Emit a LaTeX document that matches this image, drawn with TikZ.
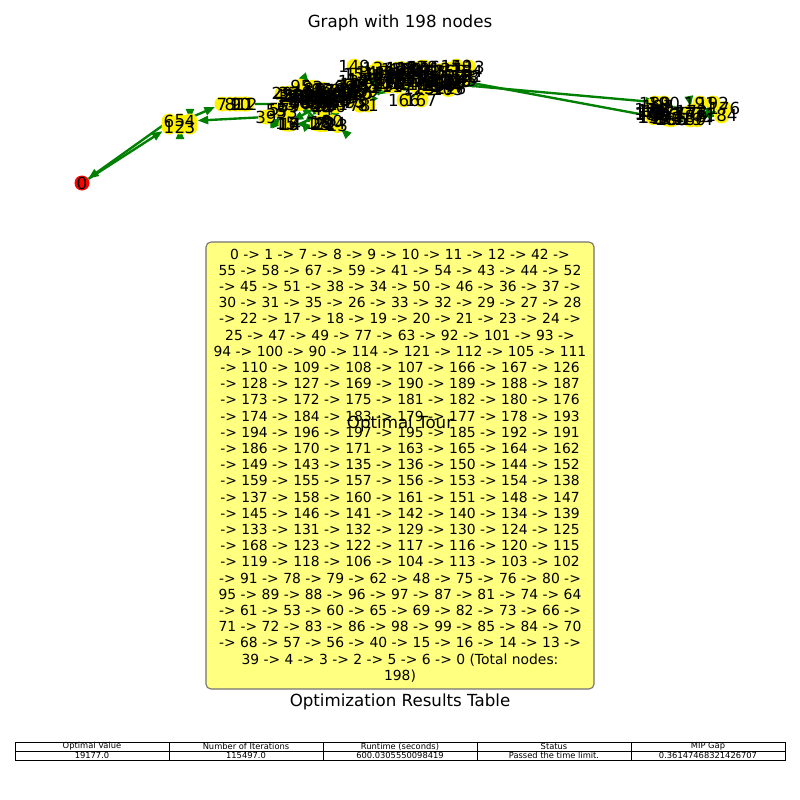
\documentclass[tikz,border=0pt]{standalone}
\usepackage{fontspec}
\setmainfont{DejaVu Sans}
\usetikzlibrary{arrows.meta}
\definecolor{nxgreen}{HTML}{008000}
\definecolor{boxyellow}{HTML}{FFFF80}
\pgfdeclarelayer{edges}
\pgfsetlayers{edges,main}

\begin{document}
\begin{tikzpicture}[x=0.72pt, y=-0.72pt,
    vtx/.style={circle, fill=yellow, inner sep=0pt, minimum size=10.8pt},
    lbl/.style={font=\fontsize{12}{14}\selectfont, inner sep=0pt},
    edge/.style={-{Triangle[length=7.5pt, width=5.8pt]}, draw=nxgreen, line width=1.7pt},
    cell/.style={draw, line width=0.7pt, minimum width=110.88pt, minimum height=6.48pt, inner sep=0pt, font=\fontsize{6}{6.5}\selectfont}]

    \useasboundingbox (0,0) rectangle (800,800);

    % Title
    \node[lbl] (title) at (400,23) {Graph with 198 nodes};

    % Depot
    \node[vtx, fill=red] (n0) at (82,183) {};

    % Cluster near the depot
    \node[vtx] (n1) at (169,127) {};
    \node[vtx] (n2) at (180,127) {};
    \node[vtx] (n3) at (190,127) {};
    \node[vtx] (n4) at (190,121) {};
    \node[vtx] (n5) at (180,121) {};
    \node[vtx] (n6) at (169,121) {};

    % Second cluster
    \foreach \i/\px in {7/222, 8/230, 9/236, 10/240, 11/244, 12/247}
        \node[vtx] (n\i) at (\px,104) {};

    % Middle clusters
    \pgfmathsetseed{11}
    \foreach \i in {13,14,15,16} {
        \pgfmathsetmacro\px{283+8*rnd}
        \node[vtx] (n\i) at (\px,124) {};
    }
    \foreach \i in {17,18,...,25} {
        \pgfmathsetmacro\px{316+26*rnd}
        \pgfmathsetmacro\py{121+5*rnd}
        \node[vtx] (n\i) at (\px,\py) {};
    }
    \node[vtx] (n39) at (266,117) {};
    \foreach \i in {26,27,...,38,40,41,...,60} {
        \pgfmathsetmacro\px{276+76*rnd}
        \pgfmathsetmacro\py{92+22*rnd}
        \node[vtx] (n\i) at (\px,\py) {};
    }
    \foreach \i in {61,62,...,100} {
        \pgfmathsetmacro\px{300+70*rnd}
        \pgfmathsetmacro\py{86+20*rnd}
        \node[vtx] (n\i) at (\px,\py) {};
    }

    % Upper cluster
    \foreach \i in {101,102,...,165} {
        \pgfmathsetmacro\px{352+118*rnd}
        \pgfmathsetmacro\py{66+24*rnd}
        \node[vtx] (n\i) at (\px,\py) {};
    }
    \node[vtx] (n166) at (404,100) {};
    \node[vtx] (n167) at (421,100) {};
    \node[vtx] (n168) at (440,84) {};
    \node[vtx] (n169) at (450,84) {};
    \node[vtx] (n170) at (456,80) {};
    \node[vtx] (n171) at (445,80) {};

    % Far right cluster
    \foreach \i in {172,173,...,188,193,194,...,197} {
        \pgfmathsetmacro\px{650+75*rnd}
        \pgfmathsetmacro\py{106+18*rnd}
        \node[vtx] (n\i) at (\px,\py) {};
    }
    \foreach \i/\px in {189/655, 190/664, 191/700, 192/713}
        \node[vtx] (n\i) at (\px,103) {};

    % Node labels
    \foreach \i in {0,1,...,197}
        \node[lbl] (l\i) at (n\i) {\i};

    % Tour edges
    \begin{pgfonlayer}{edges}
    \foreach \b [remember=\b as \a (initially 0)] in {1,7,8,9,10,11,12,42,55,58,67,59,41,54,43,44,52,45,51,38,34,50,46,36,37,30,31,35,26,33,32,29,27,28,22,17,18,19,20,21,23,24,25,47,49,77,63,92,101,93,94,100,90,114,121,112,105,111,110,109,108,107,166,167,126,128,127,169,190,189,188,187,173,172,175,181,182,180,176,174,184,183,179,177,178,193,194,196,197,195,185,192,191,186,170,171,163,165,164,162,149,143,135,136,150,144,152,159,155,157,156,153,154,138,137,158,160,161,151,148,147,145,146,141,142,140,134,139,133,131,132,129,130,124,125,168,123,122,117,116,120,115,119,118,106,104,113,103,102,91,78,79,62,48,75,76,80,95,89,88,96,97,87,81,74,64,61,53,60,65,69,82,73,66,71,72,83,86,98,99,85,84,70,68,57,56,40,15,16,14,13,39,4,3,2,5,6,0}
        \draw[edge] (n\a) -- (n\b);
    \end{pgfonlayer}

    % Tour text box
    \node[draw=black!55, fill=boxyellow, rounded corners=3.6pt, line width=0.8pt,
          minimum width=279.4pt, minimum height=321.8pt, align=center,
          font=\fontsize{10}{11.66}\selectfont] (tour) at (400,465.5)
        {0 -> 1 -> 7 -> 8 -> 9 -> 10 -> 11 -> 12 -> 42 ->\\
         55 -> 58 -> 67 -> 59 -> 41 -> 54 -> 43 -> 44 -> 52\\
         -> 45 -> 51 -> 38 -> 34 -> 50 -> 46 -> 36 -> 37 ->\\
         30 -> 31 -> 35 -> 26 -> 33 -> 32 -> 29 -> 27 -> 28\\
         -> 22 -> 17 -> 18 -> 19 -> 20 -> 21 -> 23 -> 24 ->\\
         25 -> 47 -> 49 -> 77 -> 63 -> 92 -> 101 -> 93 ->\\
         94 -> 100 -> 90 -> 114 -> 121 -> 112 -> 105 -> 111\\
         -> 110 -> 109 -> 108 -> 107 -> 166 -> 167 -> 126\\
         -> 128 -> 127 -> 169 -> 190 -> 189 -> 188 -> 187\\
         -> 173 -> 172 -> 175 -> 181 -> 182 -> 180 -> 176\\
         -> 174 -> 184 -> 183 -> 179 -> 177 -> 178 -> 193\\
         -> 194 -> 196 -> 197 -> 195 -> 185 -> 192 -> 191\\
         -> 186 -> 170 -> 171 -> 163 -> 165 -> 164 -> 162\\
         -> 149 -> 143 -> 135 -> 136 -> 150 -> 144 -> 152\\
         -> 159 -> 155 -> 157 -> 156 -> 153 -> 154 -> 138\\
         -> 137 -> 158 -> 160 -> 161 -> 151 -> 148 -> 147\\
         -> 145 -> 146 -> 141 -> 142 -> 140 -> 134 -> 139\\
         -> 133 -> 131 -> 132 -> 129 -> 130 -> 124 -> 125\\
         -> 168 -> 123 -> 122 -> 117 -> 116 -> 120 -> 115\\
         -> 119 -> 118 -> 106 -> 104 -> 113 -> 103 -> 102\\
         -> 91 -> 78 -> 79 -> 62 -> 48 -> 75 -> 76 -> 80 ->\\
         95 -> 89 -> 88 -> 96 -> 97 -> 87 -> 81 -> 74 -> 64\\
         -> 61 -> 53 -> 60 -> 65 -> 69 -> 82 -> 73 -> 66 ->\\
         71 -> 72 -> 83 -> 86 -> 98 -> 99 -> 85 -> 84 -> 70\\
         -> 68 -> 57 -> 56 -> 40 -> 15 -> 16 -> 14 -> 13 ->\\
         39 -> 4 -> 3 -> 2 -> 5 -> 6 -> 0 (Total nodes:\\
         198)};
    \node[lbl] (tourtitle) at (400,424) {Optimal Tour};

    % Results table
    \node[lbl] (tabletitle) at (400,702) {Optimization Results Table};
    \foreach \h/\v [count=\k from 0] in {Optimal Value/19177.0, Number of Iterations/115497.0,
            Runtime (seconds)/600.0305550098419, Status/Passed the time limit., MIP Gap/0.36147468321426707} {
        \node[cell] (h\k) at (92+154*\k,746.5) {\h};
        \node[cell] (v\k) at (92+154*\k,755.5) {\v};
    }

\end{tikzpicture}
\end{document}
